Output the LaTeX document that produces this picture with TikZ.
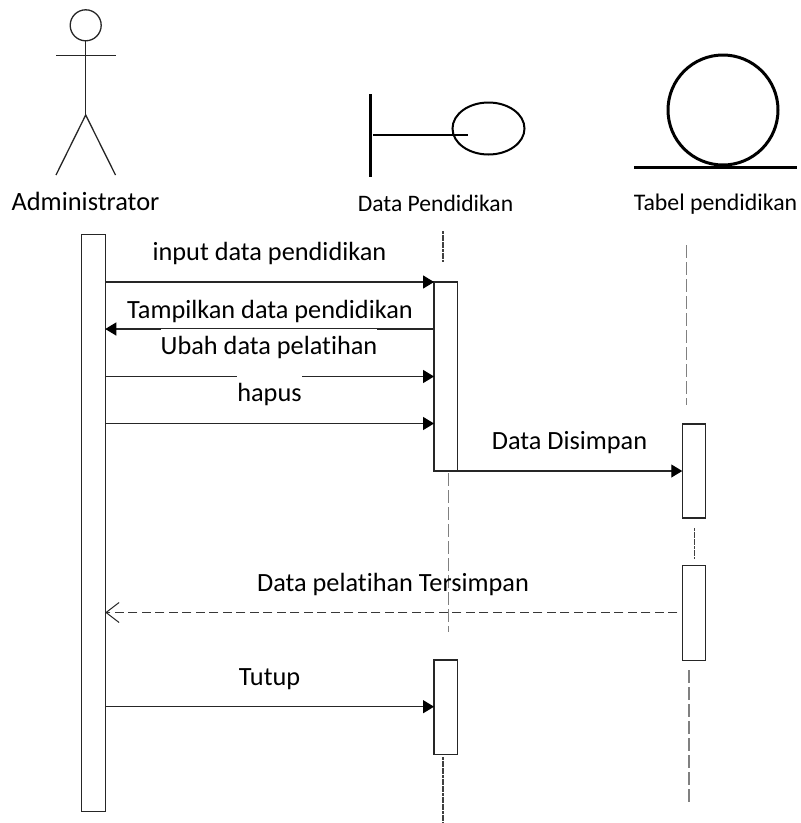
\documentclass[tikz,border=0pt]{standalone}
\usepackage{fontspec}
\setmainfont[Ligatures=NoCommon]{Carlito}
\usetikzlibrary{arrows.meta,shapes.geometric}
\tikzset{
  actbox/.style={draw=black!85,line width=1.2pt,fill=white,inner sep=0pt,outer sep=0pt,minimum width=23.5pt},
  msg/.style={line width=1.2pt,draw=black!85,-{Triangle[length=11pt,width=13pt,color=black]}},
  retmsg/.style={line width=1.2pt,draw=black!78,dash pattern=on 9pt off 4.5pt,-{Straight Barb[length=13pt,width=20pt,line width=1pt,color=black!85]}},
  lifedense/.style={line width=1.1pt,draw=black!75,dash pattern=on 3pt off 0.6pt},
  lifelong/.style={line width=1.1pt,draw=black!50,dash pattern=on 13pt off 4pt},
  msglabel/.style={anchor=base,inner sep=0pt,font=\fontsize{26.3}{30}\selectfont},
  coverlabel/.style={msglabel,fill=white,text height=25pt,text depth=6pt},
  iconlabel/.style={anchor=base,inner sep=0pt},
  actorline/.style={line width=1.3pt,draw=black!85},
}
\begin{document}
\begin{tikzpicture}[x=1pt,y=-1pt]
\useasboundingbox (0,0) rectangle (801,823);
% actor
\node[draw=black!85,line width=1.3pt,circle,minimum size=31pt,inner sep=0pt,outer sep=0pt] (head) at (85.7,25.3) {};
\coordinate (hip) at (85.7,115);
\coordinate (armL) at (56,55.7);
\coordinate (armR) at (116,55.7);
\coordinate (footL) at (56,175);
\coordinate (footR) at (115.5,175);
\draw[actorline] (head.south) -- (hip);
\draw[actorline] (armL) -- (armR);
\draw[actorline] (footL) -- (hip) -- (footR);
\node[iconlabel,font=\fontsize{26.4}{30}\selectfont] (lblAdmin) at (85.5,210) {Administrator};
% boundary
\coordinate (barT) at (370.5,94);
\coordinate (barB) at (370.5,177);
\coordinate (stemL) at (373,135);
\coordinate (stemR) at (468,135);
\node[ellipse,draw=black,line width=2pt,minimum width=72pt,minimum height=52pt,inner sep=0pt,outer sep=0pt] (bcirc) at (488.5,128.5) {};
\draw[line width=3pt,draw=black] (barT) -- (barB);
\draw[line width=2pt,draw=black] (stemL) -- (stemR);
\node[iconlabel,font=\fontsize{23.6}{27}\selectfont] (lblData) at (435.5,211) {Data Pendidikan};
% entity
\node[circle,draw=black,line width=3pt,minimum size=110pt,inner sep=0pt,outer sep=0pt] (ecirc) at (723,110) {};
\coordinate (entL) at (634,167);
\coordinate (entR) at (797,167);
\draw[line width=3pt,draw=black] (entL) -- (entR);
\node[iconlabel,font=\fontsize{23.8}{27}\selectfont] (lblTabel) at (715.5,210) {Tabel pendidikan};
% lifelines
\coordinate (la1) at (443,231); \coordinate (la2) at (443,262);
\coordinate (lb1) at (448.3,473); \coordinate (lb2) at (448.3,632);
\coordinate (lc1) at (443,757); \coordinate (lc2) at (443,823);
\coordinate (ld1) at (686.7,245); \coordinate (ld2) at (686.7,405);
\coordinate (le1) at (694.3,528); \coordinate (le2) at (694.3,559);
\coordinate (lf1) at (689,670); \coordinate (lf2) at (689,804);
\draw[lifedense] (la1) -- (la2);
\draw[lifelong] (lb1) -- (lb2);
\draw[lifedense] (lc1) -- (lc2);
\draw[lifelong] (ld1) -- (ld2);
\draw[lifedense] (le1) -- (le2);
\draw[lifelong] (lf1) -- (lf2);
% activation boxes
\node[actbox,minimum height=577pt] (adm) at (93.5,523) {};
\node[actbox,minimum height=189pt] (b1) at (445.8,376.5) {};
\node[actbox,minimum height=94.5pt] (b2) at (445.8,707.2) {};
\node[actbox,minimum height=94pt] (c1) at (694,471) {};
\node[actbox,minimum height=94.5pt] (c2) at (694,613) {};
% messages
\coordinate (y1) at (0,282);
\coordinate (y2) at (0,329);
\coordinate (y3) at (0,376.5);
\coordinate (y4) at (0,423.5);
\coordinate (y5) at (0,471);
\coordinate (y6) at (0,612.5);
\coordinate (y7) at (0,706.7);
\draw[msg] (adm.east |- y1) -- (b1.west |- y1);
\draw[msg] (b1.west |- y2) -- (adm.east |- y2);
\draw[msg] (adm.east |- y3) -- (b1.west |- y3);
\draw[msg] (adm.east |- y4) -- (b1.west |- y4);
\draw[msg] (b1.east |- y5) -- (c1.west |- y5);
\draw[retmsg] (c2.west |- y6) ++(-5,0) -- (adm.east |- y6);
\draw[msg] (adm.east |- y7) -- (b2.west |- y7);
% message labels
\node[msglabel] (m1) at (269.5,260) {input data pendidikan};
\node[msglabel] (m2) at (270,318) {Tampilkan data pendidikan};
\node[coverlabel] (m3) at (269,354) {Ubah data pelatihan};
\node[coverlabel] (m4) at (269.5,401) {hapus};
\node[msglabel] (m5) at (569.5,449) {Data Disimpan};
\node[msglabel] (m6) at (393,591) {Data pelatihan Tersimpan};
\node[msglabel] (m7) at (269.5,685) {Tutup};
\end{tikzpicture}
\end{document}
